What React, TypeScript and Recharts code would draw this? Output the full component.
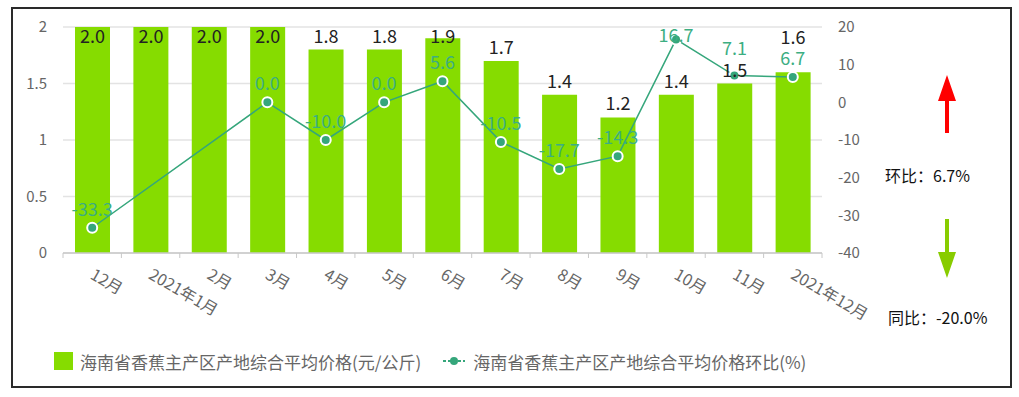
import { ComposedChart, Bar, Line, XAxis, YAxis, CartesianGrid, Legend, LabelList } from "recharts";

const months = ["12月", "2021年1月", "2月", "3月", "4月", "5月", "6月", "7月", "8月", "9月", "10月", "11月", "2021年12月"];
const prices = [2.0, 2.0, 2.0, 2.0, 1.8, 1.8, 1.9, 1.7, 1.4, 1.2, 1.4, 1.5, 1.6];
const momRates: (number | null)[] = [-33.3, null, null, 0.0, -10.0, 0.0, 5.6, -10.5, -17.7, -14.3, 16.7, 7.1, 6.7];
const leftTicks = [0, 0.5, 1, 1.5, 2];
const rightTicks = [-40, -30, -20, -10, 0, 10, 20];

const priceName = "海南省香蕉主产区产地综合平均价格(元/公斤)";
const rateName = "海南省香蕉主产区产地综合平均价格环比(%)";
const momText = "环比：6.7%";
const yoyText = "同比：-20.0%";

const data = months.map((m, i) => ({ month: m, price: prices[i], rate: momRates[i] }));

const BAR_COLOR = "#86dc00";
const LINE_COLOR = "#35a67b";
const FONT = "'Noto Sans CJK SC', 'Noto Sans', sans-serif";
const TOP = 18;
const PLOT_H = 226;

// rough label collision handling (bar value vs. line value in the same month)
const yBar = (v: number) => TOP + ((2 - v) / 2) * PLOT_H;
const yRate = (v: number) => TOP + ((20 - v) / 60) * PLOT_H;
const labelLayout = (i: number) => {
  let bar = Math.max(yBar(prices[i]) - 7, TOP + 16);
  const r = momRates[i];
  if (r === null) return { bar, rate: 0 };
  let rate = Math.max(yRate(r) - 12, TOP + 15);
  if (Math.abs(bar - rate) < 16) {
    if (rate < bar - 3) rate = bar - 22;
    else bar = rate - 21;
  }
  return { bar, rate };
};

const MonthTick = (props: any) => {
  const { x, y, payload, index } = props;
  const half = payload?.offset || 29.2;
  return (
    <g>
      <line x1={x - half} x2={x - half} y1={y} y2={y + 5} stroke="#c8c8c8" />
      {index === months.length - 1 && (
        <line x1={x + half} x2={x + half} y1={y} y2={y + 5} stroke="#c8c8c8" />
      )}
      <text
        x={x - 3}
        y={y + 25}
        transform={`rotate(30 ${x - 3} ${y + 25})`}
        textAnchor="start"
        fill="#666"
        fontSize={16}
      >
        {payload.value}
      </text>
    </g>
  );
};

const BarLabel = (props: any) => {
  const { x, width, value, index } = props;
  return (
    <text x={x + width / 2} y={labelLayout(index).bar} textAnchor="middle" fill="#222" fontSize={18}>
      {Number(value).toFixed(1)}
    </text>
  );
};

const RateLabel = (props: any) => {
  const { x, value, index } = props;
  if (value === null || value === undefined) return null;
  return (
    <text x={x} y={labelLayout(index).rate} textAnchor="middle" fill="#3cae82" fontSize={18}>
      {Number(value).toFixed(1)}
    </text>
  );
};

const LegendContent = () => (
  <div style={{ display: "flex", alignItems: "center", height: 24, fontSize: 17, color: "#666" }}>
    <span style={{ width: 19, height: 18, background: BAR_COLOR, display: "inline-block", marginRight: 7 }} />
    <span>{priceName}</span>
    <svg width={22} height={12} style={{ marginLeft: 22, marginRight: 8 }}>
      <line x1={0} x2={22} y1={6} y2={6} stroke={LINE_COLOR} strokeWidth={2} strokeDasharray="3 2" />
      <circle cx={11} cy={6} r={4} fill={LINE_COLOR} />
    </svg>
    <span>{rateName}</span>
  </div>
);

export default function App() {
  return (
    <div
      style={{
        position: "absolute",
        left: 11,
        top: 7,
        width: 1001,
        height: 381,
        border: "2px solid #2a2a2a",
        boxSizing: "border-box",
        fontFamily: FONT,
      }}
    >
      <ComposedChart
        width={872}
        height={372}
        data={data}
        margin={{ top: TOP, right: 10, bottom: 8, left: 0 }}
        style={{ fontFamily: FONT }}
      >
        <CartesianGrid vertical={false} stroke="#e3e3e3" strokeWidth={1.5} yAxisId="left" />
        <XAxis
          dataKey="month"
          interval={0}
          height={96}
          tickSize={0}
          tickMargin={0}
          tickLine={false}
          axisLine={{ stroke: "#c8c8c8", strokeWidth: 1.5 }}
          tick={<MonthTick />}
        />
        <YAxis
          yAxisId="left"
          domain={[0, 2]}
          ticks={leftTicks}
          width={50}
          axisLine={false}
          tickLine={false}
          tickMargin={10}
          tick={{ fill: "#666", fontSize: 15 }}
        />
        <YAxis
          yAxisId="right"
          orientation="right"
          domain={[-40, 20]}
          ticks={rightTicks}
          width={53}
          axisLine={false}
          tickLine={false}
          tickMargin={10}
          tick={{ fill: "#666", fontSize: 15 }}
        />
        <Legend
          verticalAlign="bottom"
          content={<LegendContent />}
          wrapperStyle={{ left: 41, width: 800 }}
        />
        <Bar yAxisId="left" dataKey="price" name={priceName} fill={BAR_COLOR} barSize={35} isAnimationActive={false}>
          <LabelList dataKey="price" content={<BarLabel />} />
        </Bar>
        <Line
          yAxisId="right"
          dataKey="rate"
          name={rateName}
          stroke={LINE_COLOR}
          strokeWidth={1.5}
          connectNulls
          dot={{ r: 5, fill: LINE_COLOR, stroke: "#fff", strokeWidth: 2 }}
          isAnimationActive={false}
        >
          <LabelList dataKey="rate" content={<RateLabel />} />
        </Line>
      </ComposedChart>
      <svg width={40} height={220} style={{ position: "absolute", left: 914, top: 58 }}>
        <polygon points="20,8 29,34 22,34 22,66 18,66 18,34 11,34" fill="#ff0000" />
        <polygon points="20,211 29,185 22,185 22,152 18,152 18,185 11,185" fill="#88cc00" />
      </svg>
      <div style={{ position: "absolute", left: 872, top: 154, fontSize: 16, color: "#111", whiteSpace: "nowrap" }}>
        {momText}
      </div>
      <div style={{ position: "absolute", left: 875, top: 296, fontSize: 16, color: "#111", whiteSpace: "nowrap" }}>
        {yoyText}
      </div>
    </div>
  );
}
